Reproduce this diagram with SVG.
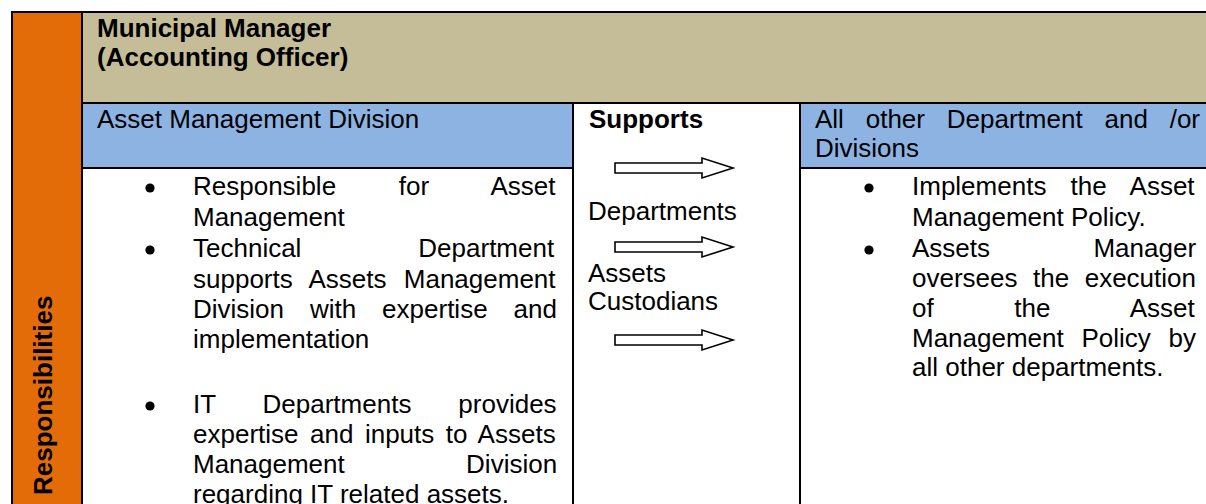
<svg xmlns="http://www.w3.org/2000/svg" width="1206" height="504" viewBox="0 0 1206 504">
  <style>
    text { font-family: "Liberation Sans", Arial, sans-serif; font-size: 26px; fill: #000; }
    .b { font-weight: bold; }
    .grid { stroke: #000; stroke-width: 2; fill: none; }
    .arrow { fill: #fff; stroke: #000; stroke-width: 1.6; stroke-linejoin: miter; }
  </style>
  <defs>
    <polygon id="arr" points="0,-5 87,-5 87,-10 118,0 87,10 87,5 0,5"/>
  </defs>
  <rect x="0" y="0" width="1206" height="504" fill="#fff"/>

  <g id="side-label">
    <rect x="12" y="12" width="70" height="492" fill="#E36C09"/>
    <text class="b" transform="translate(52,495) rotate(-90)">Responsibilities</text>
  </g>

  <g id="manager">
    <rect x="82" y="12" width="1124" height="91" fill="#C4BD97"/>
    <text class="b" x="97" y="36.5">Municipal Manager</text>
    <text class="b" x="97" y="66">(Accounting Officer)</text>
  </g>

  <g id="asset-division">
    <rect x="82" y="103" width="491" height="65" fill="#8DB3E2"/>
    <text x="97" y="128">Asset Management Division</text>
    <circle cx="150" cy="188" r="4.6"/>
    <circle cx="150" cy="250" r="4.6"/>
    <circle cx="150" cy="406" r="4.6"/>
    <text x="193" y="195" style="word-spacing:55.5px">Responsible for Asset</text>
    <text x="193" y="226">Management</text>
    <text x="193" y="257" style="word-spacing:109.7px">Technical Department</text>
    <text x="193" y="288" style="word-spacing:10px">supports Assets Management</text>
    <text x="193" y="318" style="word-spacing:18.7px">Division with expertise and</text>
    <text x="193" y="348">implementation</text>
    <text x="193" y="413" style="word-spacing:39.7px">IT Departments provides</text>
    <text x="193" y="443" style="word-spacing:4.3px">expertise and inputs to Assets</text>
    <text x="193" y="473" style="word-spacing:114.1px">Management Division</text>
    <text x="193" y="503">regarding IT related assets.</text>
  </g>

  <g id="supports">
    <text class="b" x="589" y="128">Supports</text>
    <text x="588" y="220">Departments</text>
    <text x="588" y="281.5">Assets</text>
    <text x="588" y="310">Custodians</text>
  </g>

  <g id="other-departments">
    <rect x="800" y="103" width="406" height="65" fill="#8DB3E2"/>
    <text x="815" y="128" style="word-spacing:14.6px">All other Department and /or</text>
    <text x="815" y="157">Divisions</text>
    <circle cx="869" cy="188" r="4.6"/>
    <circle cx="869" cy="250" r="4.6"/>
    <text x="912" y="195" style="word-spacing:17px">Implements the Asset</text>
    <text x="912" y="225.5">Management Policy.</text>
    <text x="912" y="256.5" style="word-spacing:96.2px">Assets Manager</text>
    <text x="912" y="286.5" style="word-spacing:8.3px">oversees the execution</text>
    <text x="912" y="316.5" style="word-spacing:73.4px">of the Asset</text>
    <text x="912" y="346.5" style="word-spacing:10.5px">Management Policy by</text>
    <text x="912" y="375.5">all other departments.</text>
  </g>

  <g id="grid">
    <path class="grid" d="M11 12 H1206 M12 11 V504 M82 12 V504 M82 103 H1206 M82 168 H573 M800 168 H1206 M573 103 V504 M800 103 V504"/>
  </g>

  <g id="connectors">
    <use href="#arr" class="arrow" x="615" y="168"/>
    <use href="#arr" class="arrow" x="615" y="247"/>
    <use href="#arr" class="arrow" x="615" y="340"/>
  </g>
</svg>
